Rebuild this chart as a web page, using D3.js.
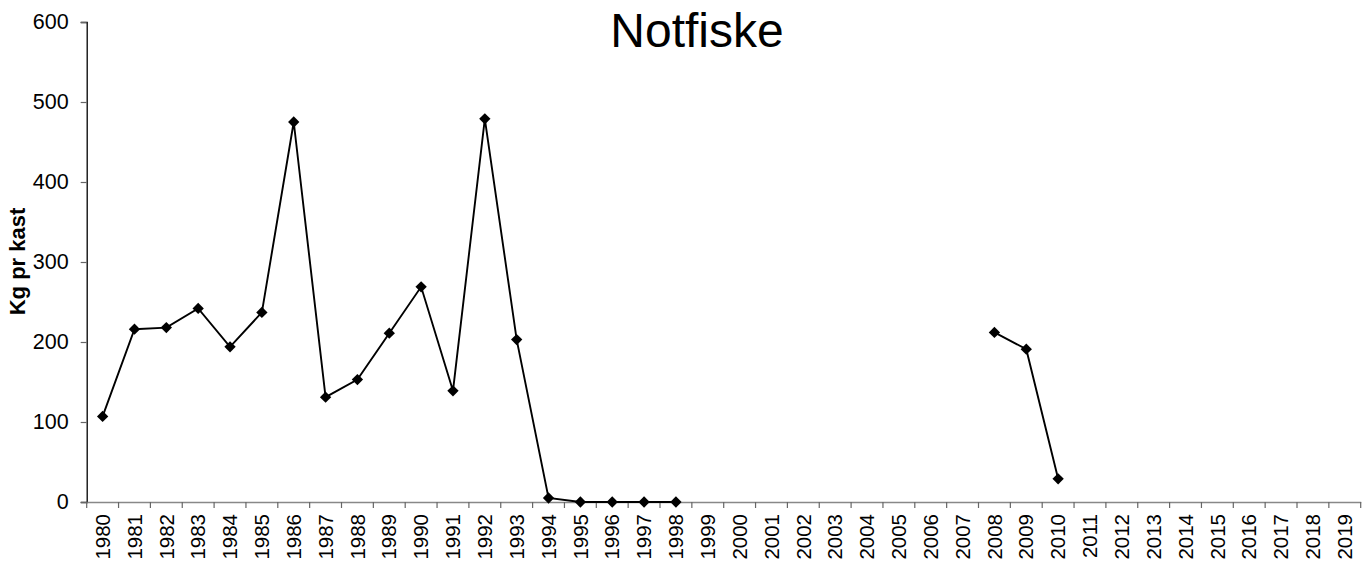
<!DOCTYPE html>
<html><head><meta charset="utf-8">
<script src="https://cdn.jsdelivr.net/npm/d3@7"></script>
<style>body{margin:0;background:#fff;} svg{display:block;font-family:Arial,"Liberation Sans",sans-serif;}</style>
</head><body><div id="chart"></div>
<script>
const years = d3.range(1980, 2020).map(String);
const kgPrKast = [107,216,218,242,194,237,475,131,153,211,269,139,479,203,5,0,0,0,0,
  null,null,null,null,null,null,null,null,null,212,191,29,
  null,null,null,null,null,null,null,null,null];
const yTicks = [0,100,200,300,400,500,600];
const titleText = "Notfiske";
const yLabel = "Kg pr kast";

const W = 1370, H = 566;
const m = {left: 86.7, right: 1360.7, top: 22, bottom: 502};
const svg = d3.select("#chart").append("svg").attr("width", W).attr("height", H);

const x = d3.scaleBand().domain(years).range([m.left, m.right]).padding(0);
const y = d3.scaleLinear().domain([0, 600]).range([m.bottom, m.top]);

// Y axis
const ya = svg.append("g").attr("transform", `translate(${m.left},0)`)
  .call(d3.axisLeft(y).tickValues(yTicks).tickSize(6).tickPadding(12).tickFormat(d3.format("d")));
ya.select(".domain").attr("stroke", "#000").attr("stroke-width", 1.3);
ya.selectAll(".tick line").attr("stroke", "#666").attr("stroke-width", 1.2);
ya.selectAll(".tick text").style("font-size", "21.5px").attr("fill", "#000").style("font-family", "Arial, 'Liberation Sans', sans-serif");

// X axis
const xa = svg.append("g").attr("transform", `translate(0,${m.bottom})`)
  .call(d3.axisBottom(x).tickSize(0).tickSizeOuter(0));
xa.select(".domain").attr("stroke", "#888").attr("stroke-width", 1.3);
xa.selectAll(".tick line").remove();
xa.selectAll(".tick text")
  .style("font-size", "20.5px").attr("fill", "#000").style("font-family", "Arial, 'Liberation Sans', sans-serif")
  .attr("transform", "rotate(-90)")
  .attr("text-anchor", "end")
  .attr("x", -12).attr("y", 0).attr("dy", "0.35em");
// boundary ticks between categories
svg.append("g").selectAll("line").data(years.concat(["__end"])).join("line")
  .attr("x1", (d,i) => i < years.length ? x(d) : m.right)
  .attr("x2", (d,i) => i < years.length ? x(d) : m.right)
  .attr("y1", m.bottom).attr("y2", m.bottom + 6)
  .attr("stroke", "#666").attr("stroke-width", 1.2);

// Line
const pts = years.map((yr, i) => ({yr, v: kgPrKast[i]}));
const line = d3.line().defined(d => d.v !== null)
  .x(d => x(d.yr) + x.bandwidth()/2).y(d => y(d.v));
svg.append("path").datum(pts).attr("d", line)
  .attr("fill", "none").attr("stroke", "#000").attr("stroke-width", 1.9);

// Diamond markers
const sym = d3.symbol().type(d3.symbolSquare).size(64);
svg.append("g").selectAll("path").data(pts.filter(d => d.v !== null)).join("path")
  .attr("d", sym)
  .attr("transform", d => `translate(${x(d.yr) + x.bandwidth()/2},${y(d.v)}) rotate(45)`)
  .attr("fill", "#000");

// Title
svg.append("text").attr("x", 697).attr("y", 47).attr("text-anchor", "middle")
  .style("font-size", "48px").attr("fill", "#000").text(titleText);

// Y label
svg.append("text").attr("transform", "translate(25,261.5) rotate(-90)")
  .attr("text-anchor", "middle").style("font-size", "22px").attr("font-weight", "bold")
  .attr("fill", "#000").text(yLabel);
</script></body></html>
